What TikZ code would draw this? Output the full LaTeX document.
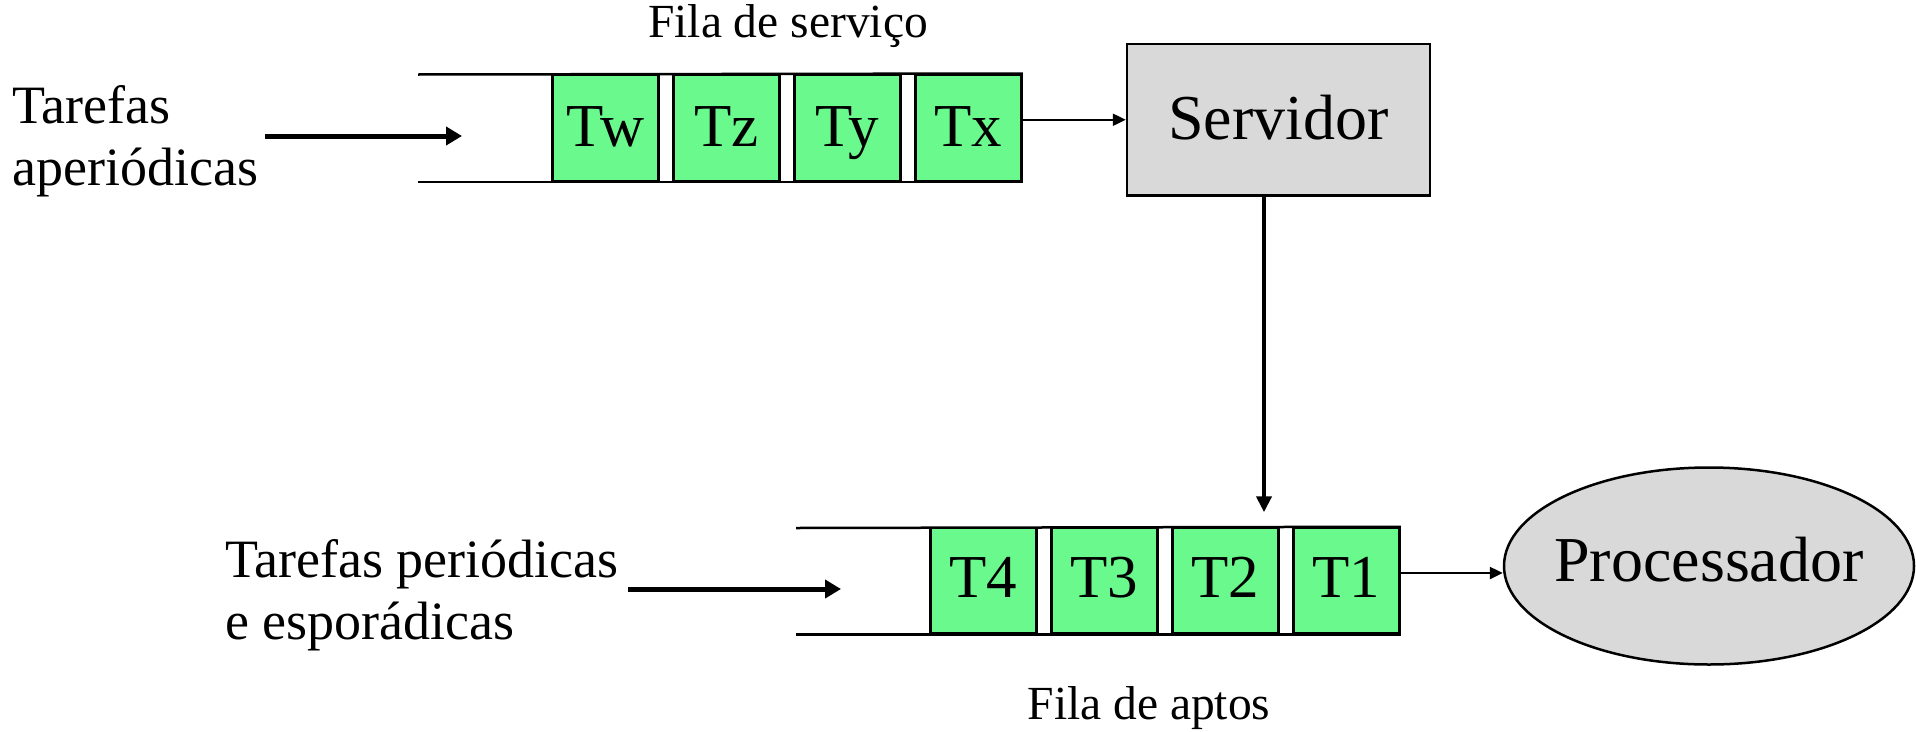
\documentclass[tikz,border=0pt]{standalone}
\usepackage{fontspec}
\setmainfont{Liberation Serif}
\usetikzlibrary{arrows.meta,shapes.geometric}

\definecolor{taskgreen}{RGB}{105,249,140}
\definecolor{unitgrey}{RGB}{217,217,217}

\tikzset{
  task/.style={draw, line width=2.5pt, fill=taskgreen, inner sep=0pt,
    minimum width=106pt, minimum height=106pt,
    font=\fontsize{61}{61}\selectfont, text height=37pt, text depth=0pt},
  unit/.style={draw, line width=2.5pt, fill=unitgrey, inner sep=0pt,
    font=\fontsize{64}{64}\selectfont, text height=40pt, text depth=0pt},
  rail/.style={line width=2.5pt},
  feed/.style={line width=5pt, -{Triangle[length=16pt,width=18pt]}},
  link/.style={line width=2.4pt, -{Triangle[length=13pt,width=12pt]}},
  drop/.style={line width=4.5pt, -{Triangle[length=16pt,width=15pt]}},
  caption/.style={inner sep=0pt, font=\fontsize{47.5}{47.5}\selectfont},
  source/.style={inner sep=0pt, align=left, anchor=base west,
    font=\fontsize{54}{62}\selectfont},
}

\begin{document}
\begin{tikzpicture}[x=1pt,y=-1pt]
\useasboundingbox (0,0) rectangle (1916,731);

% service queue (aperiodic tasks)
\coordinate (sqin) at (418,74.5);
\node[task] (Tw) at (605.5,127.75) {Tw};
\node[task] (Tz) at (726.5,127.75) {Tz};
\node[task] (Ty) at (847.5,127.75) {Ty};
\node[task] (Tx) at (968.5,127.75) {Tx};
\draw[rail] (sqin) -- (Tx.north east);
\draw[rail] (sqin |- Tw.south) -- (Tx.south east);
\foreach \t in {Tw,Tz,Ty,Tx} \node[task] at (\t) {\t};

\node[unit, minimum width=303pt, minimum height=151.5pt] (srv) at (1278.5,119.75) {Servidor};

% ready queue (periodic and sporadic tasks)
\coordinate (rqin) at (796,528);
\node[task, minimum height=105pt] (T4) at (983.5,580.5) {T4};
\node[task, minimum height=105pt] (T3) at (1104.5,580.5) {T3};
\node[task, minimum height=105pt] (T2) at (1225.5,580.5) {T2};
\node[task, minimum height=105pt] (T1) at (1346.5,580.5) {T1};
\draw[rail] (rqin) -- (T1.north east);
\draw[rail] (rqin |- T4.south) -- (T1.south east);
\foreach \t in {T4,T3,T2,T1} \node[task, minimum height=105pt, text height=34pt] at (\t) {\t};

% negative x padding keeps the ellipse at its set size around the wide label
\node[unit, ellipse, inner xsep=-15pt, minimum width=410pt, minimum height=197pt,
      text height=30pt] (cpu) at (1709,566) {Processador};

% incoming tasks (multi-line nodes sit on their last baseline)
\node[source] (aper) at (12,185) {Tarefas\\aperiódicas};
\node[source] (peri) at (225,639) {Tarefas periódicas\\e esporádicas};
\coordinate (aperA) at (265,136);
\coordinate (aperB) at (462,136);
\coordinate (periA) at (628,589);
\coordinate (periB) at (841,589);
\draw[feed] (aperA) -- (aperB);
\draw[feed] (periA) -- (periB);

% queue outputs
\draw[link] (Tx.east |- srv.west) -- (srv.west);
\draw[link] ([yshift=7.5pt]T1.east) -- ([yshift=7.5pt]T1.east -| cpu.west);
\draw[drop] ([xshift=-14.5pt]srv.south) -- ++(0,315.5);

% queue captions
\node[caption, anchor=base] (fserv) at (788,37) {Fila de serviço};
\node[caption, anchor=base] (fapt) at (1149,719) {Fila de aptos};
\end{tikzpicture}
\end{document}
